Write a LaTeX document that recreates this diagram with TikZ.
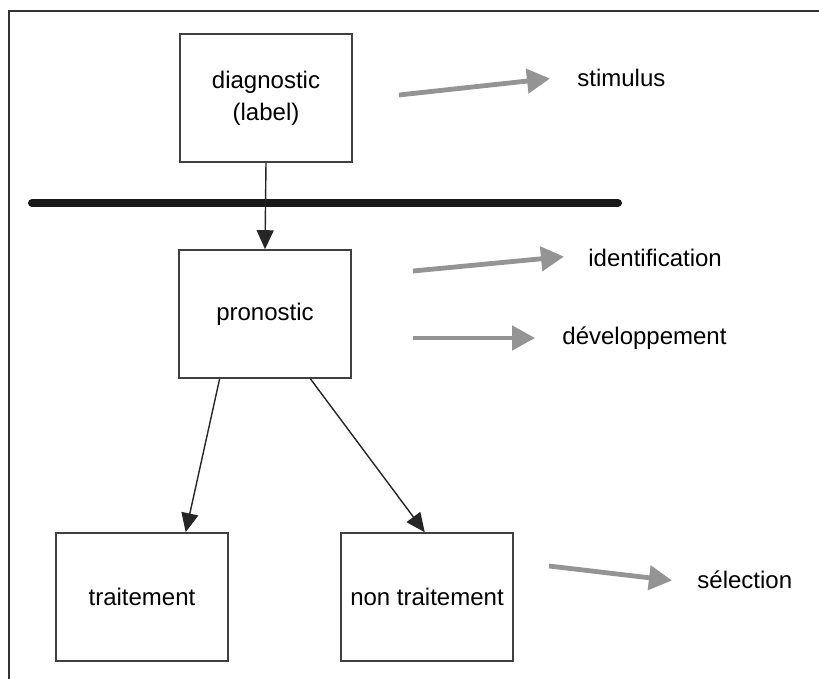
\documentclass[tikz,border=0pt]{standalone}
\usepackage{fontspec}
\setmainfont{Liberation Sans}
\usetikzlibrary{arrows.meta}
\begin{document}
\begin{tikzpicture}[x=0.5pt,y=-0.5pt,
  box/.style={draw=black!75,line width=0.8pt,minimum width=86pt,minimum height=64pt,
    inner sep=0pt,align=center,font=\fontsize{12}{16}\selectfont},
  lbl/.style={anchor=west,inner sep=0pt,font=\fontsize{12}{14}\selectfont},
  flow/.style={draw=black!85,line width=0.7pt,-{Triangle[length=9.5pt,width=8.5pt]}},
  hint/.style={draw=black!42,line width=2.4pt,-{Triangle[length=11.5pt,width=12pt]},shorten >=-2pt}]
  \useasboundingbox (0,0) rectangle (819,679);
  % outer frame: top and left edges only
  \draw[line width=1.3pt,black!80] (819,11) -- (9,11) -- (9,679);

  % boxes
  \node[box] (diag) at (266,98) {diagnostic\\(label)};
  \node[box] (prono) at (265,314) {pronostic};
  \node[box] (trait) at (142,597) {traitement};
  \node[box] (nontrait) at (427,597) {non traitement};

  % separating bar
  \coordinate (barL) at (32,203);
  \coordinate (barR) at (618,203);
  \draw[line width=4pt,line cap=round,black!90] (barL) -- (barR);

  % flow arrows
  \draw[flow] (diag.south) -- (prono.north);
  \draw[flow] (prono.235) -- (trait.56);
  \draw[flow] (prono.305) -- (nontrait.92);

  % side labels
  \node[lbl] (stim) at (577,78) {stimulus};
  \node[lbl] (ident) at (588,258) {identification};
  \node[lbl] (dev) at (562,338) {développement};
  \node[lbl] (sel) at (697,580) {sélection};

  % grey pointer arrows
  \coordinate (s1) at (399,95);  \coordinate (e1) at (546,79);
  \coordinate (s2) at (413,271); \coordinate (e2) at (560,257);
  \coordinate (s3) at (413,338); \coordinate (e3) at (531,338);
  \coordinate (s4) at (549,566); \coordinate (e4) at (668,580);
  \draw[hint] (s1) -- (e1);
  \draw[hint] (s2) -- (e2);
  \draw[hint] (s3) -- (e3);
  \draw[hint] (s4) -- (e4);
\end{tikzpicture}
\end{document}
